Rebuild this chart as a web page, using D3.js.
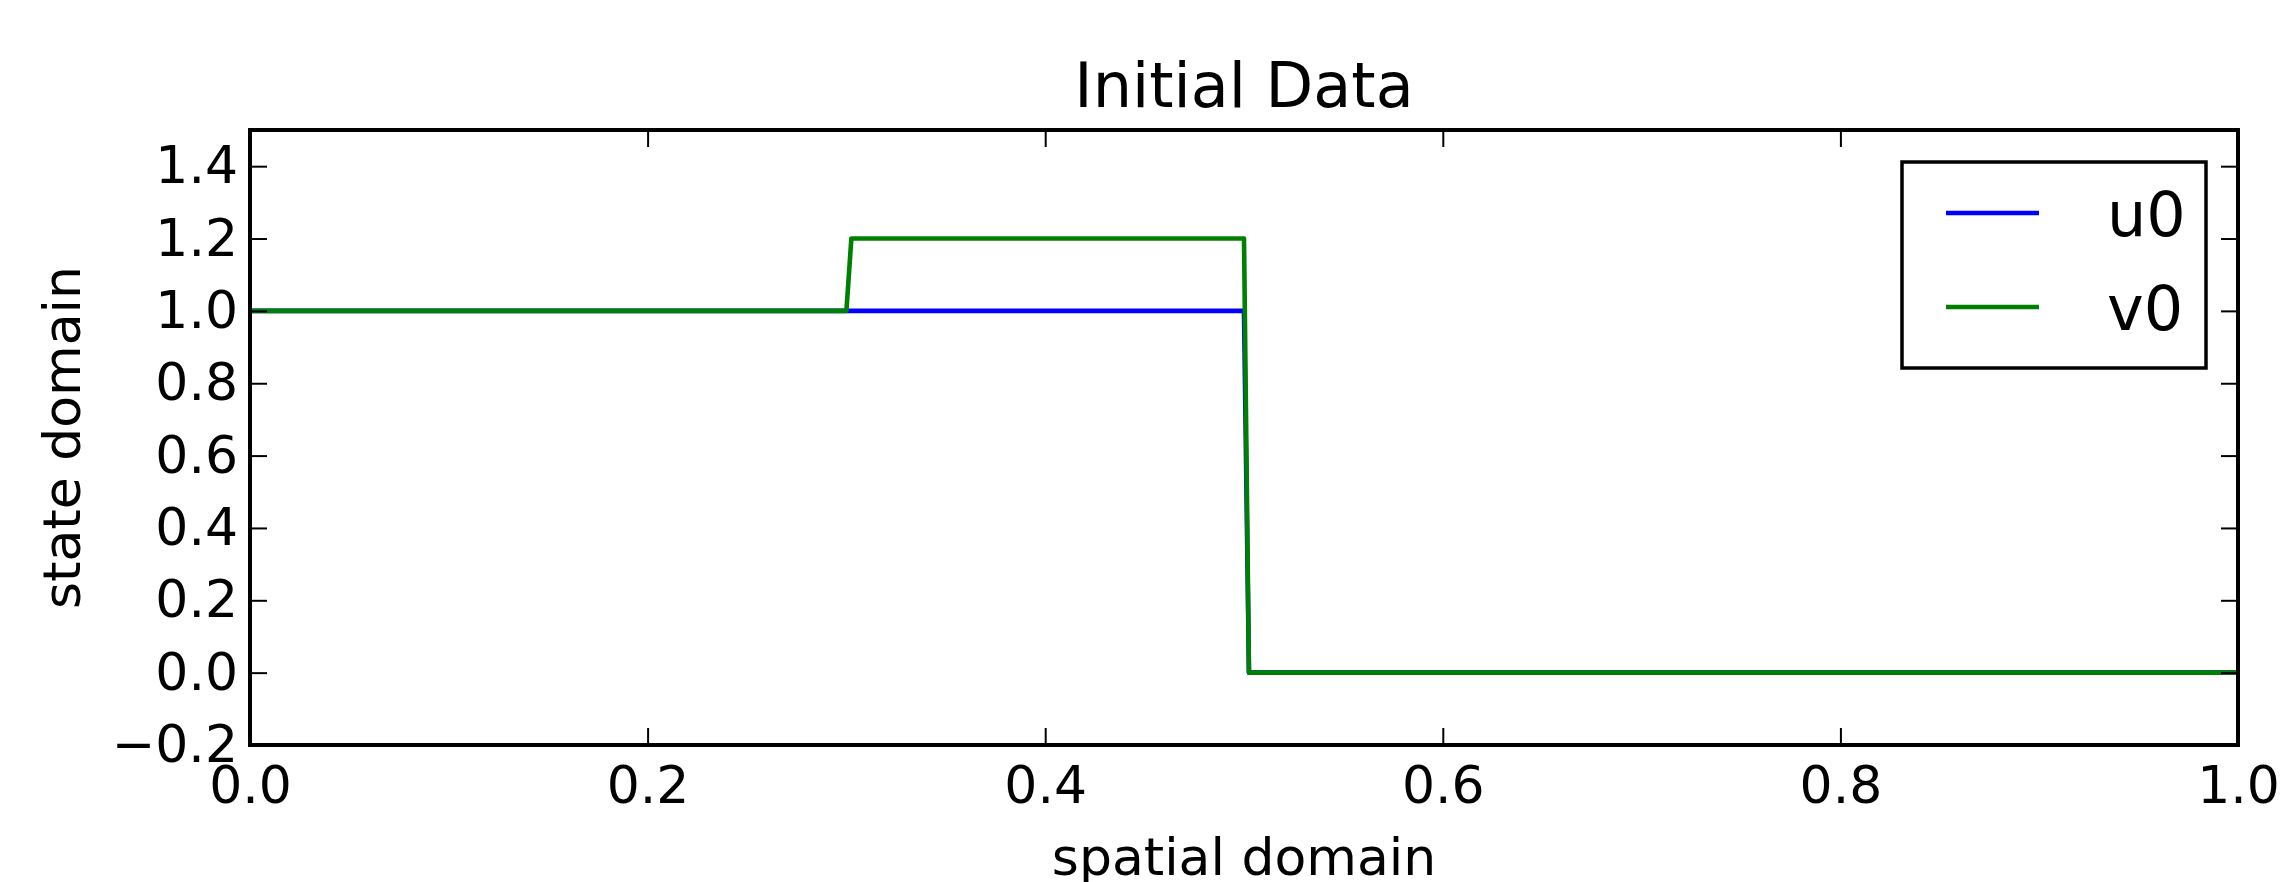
<!DOCTYPE html>
<html>
<head>
<meta charset="utf-8">
<script src="https://cdn.jsdelivr.net/npm/d3@7"></script>
<style>
  body { margin: 0; background: #fff; }
  svg { display: block; font-family: "DejaVu Sans", sans-serif; }
</style>
</head>
<body>
<svg id="svg" width="2286" height="882"></svg>
<script>
// data (breakpoints of the piecewise-constant profiles)
var xs = [0.0, 0.3, 0.3025, 0.5, 0.5025, 1.0];
var u0 = [1.0, 1.0, 1.0, 1.0, 0.0, 0.0];
var v0 = [1.0, 1.0, 1.2, 1.2, 0.0, 0.0];
var seriesNames = ["u0", "v0"];
var seriesColors = ["#0000ff", "#008000"];
var xTicks = [0.0, 0.2, 0.4, 0.6, 0.8, 1.0];
var yTicks = [-0.2, 0.0, 0.2, 0.4, 0.6, 0.8, 1.0, 1.2, 1.4];

var svg = d3.select("#svg");

// plot area (note: "top" is taken by window.top)
var plotL = 250, plotR = 2238, plotT = 130, plotB = 745;

var x = d3.scaleLinear().domain([0, 1]).range([plotL, plotR]);
var y = d3.scaleLinear().domain([-0.2, 1.5]).range([plotB, plotT]);

var fmt = d3.format(".1f");
var tickLen = 17;

// lines
var line = d3.line()
    .x(function(d) { return x(d[0]); })
    .y(function(d) { return y(d[1]); });

var series = [u0, v0];
series.forEach(function(vals, i) {
    svg.append("path")
        .datum(xs.map(function(xx, k) { return [xx, vals[k]]; }))
        .attr("d", line)
        .attr("fill", "none")
        .attr("stroke", seriesColors[i])
        .attr("stroke-width", 4.6)
        .attr("stroke-linejoin", "round");
});

// axes (ticks pointing inward, matplotlib classic)
function styleAxis(g) {
    g.select(".domain").remove();
    g.selectAll(".tick line").attr("stroke", "#000").attr("stroke-width", 2);
    g.selectAll(".tick text").attr("fill", "#000").style("font-size", "52px")
        .style("font-family", "DejaVu Sans");
}

svg.append("g")
    .attr("transform", "translate(0," + plotB + ")")
    .call(d3.axisBottom(x).tickValues(xTicks).tickFormat(fmt).tickSizeInner(-tickLen).tickSizeOuter(0).tickPadding(21))
    .call(styleAxis);

svg.append("g")
    .attr("transform", "translate(0," + plotT + ")")
    .call(d3.axisTop(x).tickValues(xTicks).tickFormat("").tickSizeInner(-tickLen).tickSizeOuter(0))
    .call(styleAxis);

svg.append("g")
    .attr("transform", "translate(" + plotL + ",0)")
    .call(d3.axisLeft(y).tickValues(yTicks).tickFormat(fmt).tickSizeInner(-tickLen).tickSizeOuter(0).tickPadding(12))
    .call(styleAxis);

svg.append("g")
    .attr("transform", "translate(" + plotR + ",0)")
    .call(d3.axisRight(y).tickValues(yTicks).tickFormat("").tickSizeInner(-tickLen).tickSizeOuter(0))
    .call(styleAxis);

// frame
svg.append("rect")
    .attr("x", plotL).attr("y", plotT)
    .attr("width", plotR - plotL).attr("height", plotB - plotT)
    .attr("fill", "none")
    .attr("stroke", "#000")
    .attr("stroke-width", 4);

// title and axis labels
svg.append("text")
    .attr("x", (plotL + plotR) / 2)
    .attr("y", 107)
    .attr("text-anchor", "middle")
    .style("font-size", "62px")
    .text("Initial Data");

svg.append("text")
    .attr("x", (plotL + plotR) / 2)
    .attr("y", 875)
    .attr("text-anchor", "middle")
    .style("font-size", "52px")
    .text("spatial domain");

svg.append("text")
    .attr("transform", "translate(80," + ((plotT + plotB) / 2) + ") rotate(-90)")
    .attr("text-anchor", "middle")
    .style("font-size", "52px")
    .text("state domain");

// legend
var legend = svg.append("g").attr("transform", "translate(1902,162)");
legend.append("rect")
    .attr("width", 304).attr("height", 206)
    .attr("fill", "#fff")
    .attr("stroke", "#000")
    .attr("stroke-width", 3.5);

seriesNames.forEach(function(name, i) {
    var yy = 51 + i * 94;
    legend.append("line")
        .attr("x1", 44).attr("x2", 137)
        .attr("y1", yy).attr("y2", yy)
        .attr("stroke", seriesColors[i])
        .attr("stroke-width", 4.6);
    legend.append("text")
        .attr("x", 205)
        .attr("y", yy + 23)
        .style("font-size", "62px")
        .text(name);
});
</script>
</body>
</html>
